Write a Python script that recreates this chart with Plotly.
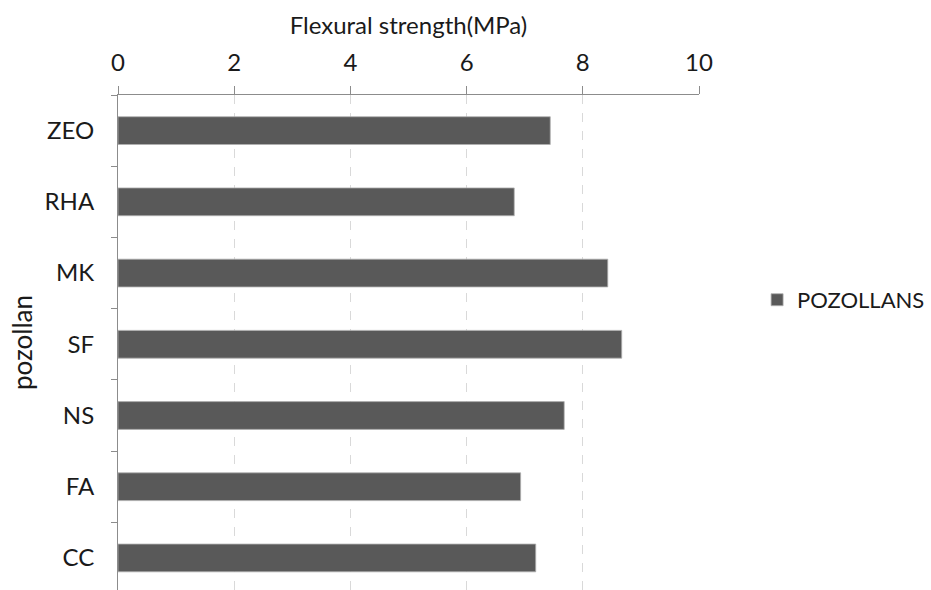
import plotly.graph_objects as go

# Flexural strength by pozzolan type (listed bottom to top)
categories = ["CC", "FA", "NS", "SF", "MK", "RHA", "ZEO"]
strength_mpa = [7.19, 6.93, 7.68, 8.67, 8.43, 6.82, 7.44]
x_ticks = [0, 2, 4, 6, 8, 10]
series_name = "POZOLLANS"

FONT = "Lato, 'Open Sans', sans-serif"

fig = go.Figure(
    go.Bar(
        x=strength_mpa,
        y=categories,
        orientation="h",
        name=series_name,
        marker=dict(color="#595959", line=dict(color="#b0b0b0", width=0.8)),
        showlegend=True,
    )
)

fig.update_layout(
    width=931,
    height=590,
    margin=dict(l=118, r=232, t=95, b=0),
    paper_bgcolor="white",
    plot_bgcolor="white",
    font=dict(family=FONT, size=24, color="#1a1a1a"),
    bargap=0.61,
    legend=dict(
        x=1.1, y=0.586, xanchor="left", yanchor="middle",
        font=dict(size=22), itemwidth=30,
    ),
    xaxis=dict(
        side="top",
        range=[0, 10],
        tickvals=x_ticks,
        ticks="outside",
        ticklen=8,
        tickcolor="#8c8c8c",
        showline=True,
        linecolor="#8c8c8c",
        linewidth=1,
        showgrid=True,
        gridcolor="#d9d9d9",
        griddash="dash",
        gridwidth=1,
        zeroline=False,
        ticklabelstandoff=5,
        title=dict(text="Flexural strength(MPa)", standoff=6, font=dict(size=24)),
        tickfont=dict(size=24),
    ),
    yaxis=dict(
        range=[-0.45, 6.5],
        ticks="outside",
        tickson="boundaries",
        ticklen=6,
        tickcolor="#8c8c8c",
        showline=True,
        linecolor="#8c8c8c",
        linewidth=1,
        showgrid=False,
        ticklabelstandoff=18,
        title=dict(text="pozollan", standoff=4, font=dict(size=26)),
        tickfont=dict(size=24),
    ),
)

fig.write_html("out.html")
